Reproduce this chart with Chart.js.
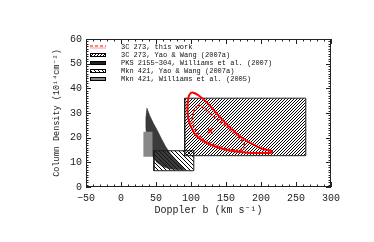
<!DOCTYPE html>
<html>
<head>
<meta charset="utf-8">
<script src="https://cdn.jsdelivr.net/npm/chart.js@4/dist/chart.umd.min.js"></script>
<style>
  html, body { margin: 0; padding: 0; background: #fff; }
  canvas { display: block; }
</style>
</head>
<body>
<canvas id="chart" width="374" height="242"></canvas>
<script>
const xTicks = [-50, 0, 50, 100, 150, 200, 250, 300];
const yTicks = [0, 10, 20, 30, 40, 50, 60];

const legendLabels = [
  '3C 273, this work',
  '3C 273, Yao & Wang (2007a)',
  'PKS 2155\u2212304, Williams et al. (2007)',
  'Mkn 421, Yao & Wang (2007a)',
  'Mkn 421, Williams et al. (2005)'
];

// 3C 273, this work: outer (solid) and inner (dotted) contours
const outerB = [101, 110, 124, 143, 171, 200, 214, 216, 211, 181, 148, 124, 109, 100, 96, 95, 97, 101];
const outerN = [38.5, 37.3, 33.9, 27.8, 20.4, 15.7, 14.7, 14.2, 13.8, 13.9, 15.2, 17.6, 20.4, 24.4, 28, 33, 37, 38.5];
const innerB = [110, 119, 133, 157, 174, 176, 161, 138, 119, 107, 103, 102, 105, 110];
const innerN = [33.3, 31.9, 28.5, 23, 18.3, 15.7, 15, 16.6, 19, 23, 25.5, 28, 31.2, 33.3];
const bestB = [127.6];
const bestN = [22.7];

// 3C 273, Yao & Wang (2007a) box
const yao273B = [91, 264];
const yao273N = [12.7, 36];

// PKS 2155-304, Williams et al. (2007)
const pksB = [37, 41, 46, 52, 58, 64, 71, 79, 86, 92, 80, 70, 60, 51, 45, 40, 37, 35.5, 35.5, 37];
const pksN = [32, 29, 26, 22.9, 19.5, 16.3, 13.4, 10.9, 8.6, 7.0, 7.0, 7.3, 8.2, 10, 12.5, 15, 19, 24, 28, 32];

// Mkn 421, Yao & Wang (2007a) box
const yaoMknB = [47, 104];
const yaoMknN = [6.6, 14.7];

// Mkn 421, Williams et al. (2005) box
const willMknB = [32, 45];
const willMknN = [12.3, 22.4];

const RED = '#ff0000';
const FONT = "'Liberation Mono', 'DejaVu Sans Mono', monospace";

function pts(bs, ns) {
  return bs.map((b, i) => ({ x: b, y: ns[i] }));
}

function box(bs, ns) {
  return pts([bs[0], bs[1], bs[1], bs[0], bs[0]], [ns[0], ns[0], ns[1], ns[1], ns[0]]);
}

function hatch(dir, gap) {
  const c = document.createElement('canvas');
  c.width = gap;
  c.height = gap;
  const g = c.getContext('2d');
  g.strokeStyle = '#000';
  g.lineWidth = 1;
  g.beginPath();
  if (dir === '/') {
    g.moveTo(0, gap); g.lineTo(gap, 0);
    g.moveTo(-1, 1); g.lineTo(1, -1);
    g.moveTo(gap - 1, gap + 1); g.lineTo(gap + 1, gap - 1);
  } else {
    g.moveTo(0, 0); g.lineTo(gap, gap);
    g.moveTo(-1, gap - 1); g.lineTo(1, gap + 1);
    g.moveTo(gap - 1, -1); g.lineTo(gap + 1, 1);
  }
  g.stroke();
  return g.createPattern(c, 'repeat');
}

const hatch273 = hatch('/', 3);
const hatchMkn = hatch('\\', 4);

const shape = {
  showLine: true,
  pointRadius: 0,
  tension: 0,
  fill: 'shape'
};

const legendPlugin = {
  id: 'idlLegend',
  afterDraw(chart) {
    const { ctx, chartArea } = chart;
    const x0 = chartArea.left + 4;
    const y0 = chartArea.top + 8;
    const fills = [null, hatch273, '#222', hatchMkn, '#888'];
    ctx.save();
    ctx.font = '7px ' + FONT;
    ctx.textBaseline = 'middle';
    legendLabels.forEach((label, i) => {
      const y = y0 + i * 8;
      if (i === 0) {
        ctx.strokeStyle = RED;
        ctx.lineWidth = 1;
        ctx.setLineDash([3, 2]);
        ctx.beginPath();
        ctx.moveTo(x0, y - 1); ctx.lineTo(x0 + 16, y - 1);
        ctx.stroke();
        ctx.setLineDash([]);
        ctx.strokeStyle = 'rgba(255,0,0,0.4)';
        ctx.beginPath();
        ctx.moveTo(x0, y + 1); ctx.lineTo(x0 + 16, y + 1);
        ctx.stroke();
      } else {
        ctx.fillStyle = '#fff';
        ctx.fillRect(x0, y - 2, 16, 4);
        ctx.fillStyle = fills[i];
        ctx.fillRect(x0, y - 2, 16, 4);
        ctx.strokeStyle = '#000';
        ctx.lineWidth = 1;
        ctx.strokeRect(x0 + 0.5, y - 1.5, 15, 3);
      }
      ctx.fillStyle = '#111';
      ctx.fillText(label, x0 + 31, y + 0.5);
    });
    ctx.restore();
  }
};

const framePlugin = {
  id: 'idlFrame',
  afterDraw(chart) {
    const { ctx, chartArea: a, scales } = chart;
    ctx.save();
    ctx.strokeStyle = '#222';
    ctx.lineWidth = 1;
    ctx.strokeRect(a.left + 0.5, a.top + 0.5, a.right - a.left - 1, a.bottom - a.top - 1);
    ctx.beginPath();
    for (let v = xTicks[0]; v <= xTicks[xTicks.length - 1]; v += 10) {
      const px = Math.round(scales.x.getPixelForValue(v)) + 0.5;
      const len = xTicks.includes(v) ? 5 : 2.5;
      ctx.moveTo(px, a.bottom); ctx.lineTo(px, a.bottom - len);
      ctx.moveTo(px, a.top); ctx.lineTo(px, a.top + len);
    }
    for (let v = yTicks[0]; v <= yTicks[yTicks.length - 1]; v += 1) {
      const py = Math.round(scales.y.getPixelForValue(v)) + 0.5;
      const len = yTicks.includes(v) ? 5 : 2.5;
      ctx.moveTo(a.left, py); ctx.lineTo(a.left + len, py);
      ctx.moveTo(a.right, py); ctx.lineTo(a.right - len, py);
    }
    ctx.stroke();
    ctx.restore();
  }
};

new Chart(document.getElementById('chart'), {
  type: 'scatter',
  data: {
    datasets: [
      { ...shape, data: pts(innerB, innerN), fill: false, tension: 0.4, borderColor: RED, borderWidth: 2, borderDash: [2, 2] },
      { ...shape, data: pts(outerB, outerN), fill: false, tension: 0.4, borderColor: RED, borderWidth: 2 },
      { data: pts(bestB, bestN), pointStyle: 'crossRot', pointRadius: 3.5, borderColor: RED, borderWidth: 1.5, backgroundColor: RED },
      { ...shape, data: box(yao273B, yao273N), backgroundColor: hatch273, borderColor: '#222', borderWidth: 1 },
      { ...shape, data: box(willMknB, willMknN), backgroundColor: '#888', borderColor: '#888', borderWidth: 0 },
      { ...shape, data: pts(pksB, pksN), backgroundColor: 'rgba(25,25,25,0.85)', borderColor: 'rgba(25,25,25,0.85)', borderWidth: 0.5 },
      { ...shape, data: box(yaoMknB, yaoMknN), backgroundColor: hatchMkn, borderColor: '#222', borderWidth: 1 }
    ]
  },
  options: {
    responsive: false,
    animation: false,
    devicePixelRatio: 1,
    layout: { padding: { top: 39, right: 43, left: 0, bottom: 0 } },
    plugins: { legend: { display: false }, tooltip: { enabled: false } },
    scales: {
      x: {
        min: -50, max: 300,
        afterBuildTicks: (s) => { s.ticks = xTicks.map((v) => ({ value: v })); },
        afterFit: (s) => { s.height = 55; },
        grid: { display: false, drawTicks: false },
        border: { display: false },
        ticks: {
          padding: 5,
          color: '#222',
          font: { family: FONT, size: 10 },
          callback: (v) => (v < 0 ? '\u2212' + Math.abs(v) : String(v))
        },
        title: {
          display: true,
          text: 'Doppler b (km s\u207b\u00b9)',
          color: '#222',
          font: { family: FONT, size: 10 },
          padding: { top: 0, bottom: 26 }
        }
      },
      y: {
        min: 0, max: 60,
        afterBuildTicks: (s) => { s.ticks = yTicks.map((v) => ({ value: v })); },
        afterFit: (s) => { s.width = 86; },
        grid: { display: false, drawTicks: false },
        border: { display: false },
        ticks: {
          padding: 4,
          color: '#222',
          font: { family: FONT, size: 10 }
        },
        title: {
          display: true,
          text: 'Column Density (10\u00b9\u2074cm\u207b\u00b2)',
          color: '#222',
          font: { family: FONT, size: 8.5 },
          padding: { top: 52, bottom: 0 }
        }
      }
    }
  },
  plugins: [legendPlugin, framePlugin]
});
</script>
</body>
</html>
